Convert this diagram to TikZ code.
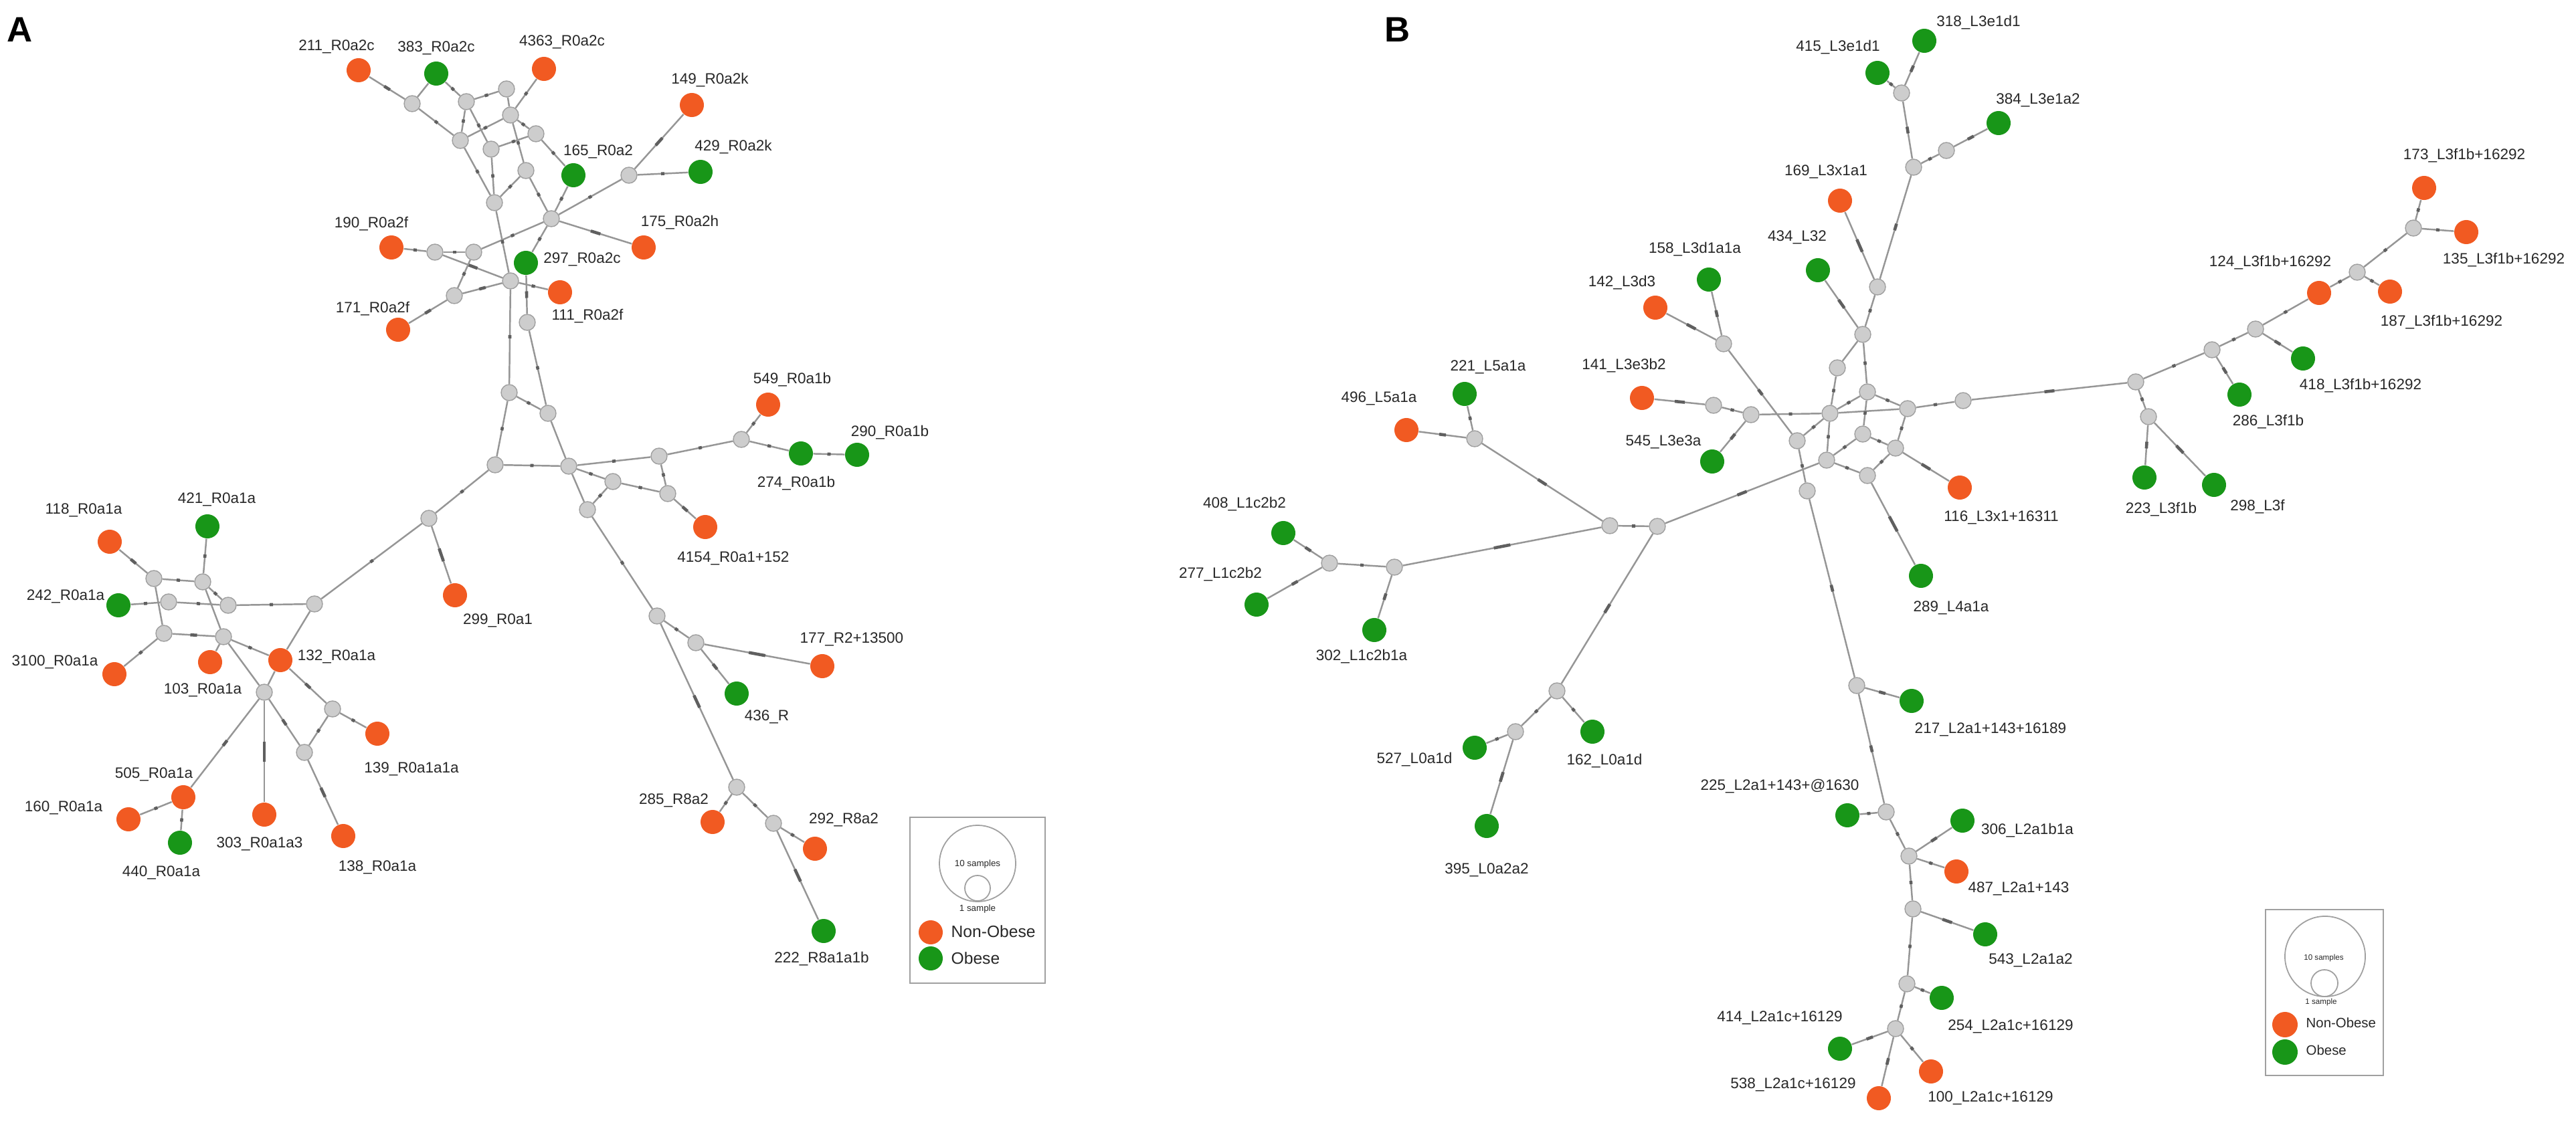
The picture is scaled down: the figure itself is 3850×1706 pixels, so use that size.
\documentclass[tikz,border=0pt]{standalone}
\usepackage{fontspec}
\setmainfont{Liberation Sans}
\usetikzlibrary{decorations.markings}
\definecolor{nobc}{RGB}{241,90,34}
\definecolor{obc}{RGB}{24,150,24}
\definecolor{hfill}{RGB}{205,205,205}
\definecolor{hline}{RGB}{160,160,160}
\definecolor{edgec}{RGB}{150,150,150}
\definecolor{tkc}{RGB}{95,95,95}
\definecolor{labc}{RGB}{40,40,40}
\pgfdeclarelayer{back}
\pgfdeclarelayer{bg}
\pgfsetlayers{back,bg,main}
\begin{document}
\begin{tikzpicture}[x=0.01cm,y=-0.01cm,
 nob/.style={circle,fill=nobc,inner sep=0,minimum size=0.36cm},
 obs/.style={circle,fill=obc,inner sep=0,minimum size=0.36cm},
 hap/.style={circle,fill=hfill,draw=hline,line width=0.4pt,inner sep=0,minimum size=0.24cm},
 lab/.style={font=\fontsize{6.4}{7}\selectfont,text=labc,inner sep=0},
 edg/.style={draw=edgec,line width=0.7pt},
 tk/.style={postaction={decorate,decoration={markings,mark=at position 0.5 with {\draw[tkc,line width=1.3pt] (-#1*0.025cm,0)--(#1*0.025cm,0);}}}},
 panel/.style={font=\fontsize{15}{17}\selectfont\bfseries,inner sep=0},
 legbox/.style={draw=hline,line width=0.8pt,inner sep=0},
 ring/.style={circle,draw=hline,line width=0.5pt,inner sep=0},
 tiny/.style={font=\fontsize{3.8}{4}\selectfont,text=labc,inner sep=0},
 legtxt/.style={font=\fontsize{7}{8}\selectfont,text=labc,inner sep=0,anchor=west}
]
\useasboundingbox (0,0) rectangle (3850,1706);
\begin{pgfonlayer}{back}
\fill[white] (0,0) rectangle (3850,1706);
\end{pgfonlayer}
\node[panel] (pA) at (30,44) {A};
\node[panel] (pB) at (2089,44) {B};
% ================= Panel A =================
% top cluster
\node[nob] (a211) at (536,105) {};
\node[obs] (a383) at (652,110) {};
\node[nob] (a4363) at (813,103) {};
\node[nob] (a149) at (1034,157) {};
\node[obs] (a429) at (1047,257) {};
\node[obs] (a165) at (857,262) {};
\node[nob] (a175) at (962,370) {};
\node[obs] (a297) at (786,393) {};
\node[nob] (a111) at (837,437) {};
\node[nob] (a190) at (585,370) {};
\node[nob] (a171) at (595,493) {};
\node[hap] (g1) at (616,155) {};
\node[hap] (g2) at (697,152) {};
\node[hap] (g3) at (757,133) {};
\node[hap] (g4) at (763,172) {};
\node[hap] (g5) at (801,200) {};
\node[hap] (g6) at (688,210) {};
\node[hap] (g7) at (734,223) {};
\node[hap] (g8) at (786,255) {};
\node[hap] (g9) at (940,262) {};
\node[hap] (g10) at (739,303) {};
\node[hap] (g11) at (824,327) {};
\node[hap] (g12) at (650,377) {};
\node[hap] (g13) at (708,377) {};
\node[hap] (g14) at (763,420) {};
\node[hap] (g15) at (679,442) {};
\node[hap] (g16) at (788,482) {};
% centre
\node[hap] (ca) at (761,587) {};
\node[hap] (cb) at (819,618) {};
\node[hap] (cc) at (740,695) {};
\node[hap] (cd) at (850,697) {};
\node[hap] (ce) at (985,682) {};
\node[hap] (cf) at (1108,657) {};
\node[nob] (a549) at (1148,605) {};
\node[obs] (a274) at (1197,678) {};
\node[obs] (a290) at (1281,680) {};
\node[hap] (cg) at (916,720) {};
\node[hap] (ch) at (998,738) {};
\node[hap] (ci) at (878,762) {};
\node[nob] (a4154) at (1054,788) {};
\node[hap] (cj) at (641,775) {};
\node[nob] (a299) at (680,890) {};
\node[hap] (ck) at (982,921) {};
\node[hap] (cl) at (1040,961) {};
\node[nob] (a177) at (1229,996) {};
\node[obs] (a436) at (1101,1037) {};
\node[hap] (cx) at (1101,1177) {};
\node[nob] (a285) at (1065,1229) {};
\node[hap] (cy) at (1156,1231) {};
\node[nob] (a292) at (1218,1269) {};
\node[obs] (a222) at (1231,1392) {};
% left cluster
\node[hap] (lm) at (470,903) {};
\node[nob] (a118) at (164,810) {};
\node[obs] (a421) at (310,787) {};
\node[hap] (ln) at (230,865) {};
\node[hap] (lo) at (303,870) {};
\node[obs] (a242) at (177,905) {};
\node[hap] (lp) at (252,900) {};
\node[hap] (lq) at (341,905) {};
\node[hap] (lr) at (245,947) {};
\node[hap] (ls) at (334,952) {};
\node[nob] (a3100) at (171,1008) {};
\node[nob] (a103) at (314,990) {};
\node[nob] (a132) at (419,987) {};
\node[hap] (lu) at (395,1035) {};
\node[hap] (lv) at (497,1060) {};
\node[nob] (a139) at (564,1097) {};
\node[hap] (lw) at (455,1125) {};
\node[nob] (a505) at (274,1192) {};
\node[nob] (a160) at (192,1225) {};
\node[obs] (a440) at (269,1260) {};
\node[nob] (a303) at (395,1218) {};
\node[nob] (a138) at (513,1250) {};
% labels A
\node[lab] (t211) at (503,70) {211\_R0a2c};
\node[lab] (t383) at (652,72) {383\_R0a2c};
\node[lab] (t4363) at (840,63) {4363\_R0a2c};
\node[lab] (t149) at (1061,120) {149\_R0a2k};
\node[lab] (t429) at (1096,220) {429\_R0a2k};
\node[lab] (t165) at (894,227) {165\_R0a2};
\node[lab] (t175) at (1016,333) {175\_R0a2h};
\node[lab] (t297) at (870,388) {297\_R0a2c};
\node[lab] (t111) at (878,473) {111\_R0a2f};
\node[lab] (t190) at (555,335) {190\_R0a2f};
\node[lab] (t171) at (557,462) {171\_R0a2f};
\node[lab] (t549) at (1184,568) {549\_R0a1b};
\node[lab] (t274) at (1190,723) {274\_R0a1b};
\node[lab] (t290) at (1330,647) {290\_R0a1b};
\node[lab] (t4154) at (1096,835) {4154\_R0a1+152};
\node[lab] (t299) at (744,928) {299\_R0a1};
\node[lab] (t177) at (1273,956) {177\_R2+13500};
\node[lab] (t436) at (1146,1072) {436\_R};
\node[lab] (t285) at (1007,1197) {285\_R8a2};
\node[lab] (t292) at (1261,1226) {292\_R8a2};
\node[lab] (t222) at (1228,1434) {222\_R8a1a1b};
\node[lab] (t118) at (125,763) {118\_R0a1a};
\node[lab] (t421) at (324,747) {421\_R0a1a};
\node[lab] (t242) at (98,892) {242\_R0a1a};
\node[lab] (t3100) at (82,990) {3100\_R0a1a};
\node[lab] (t103) at (303,1032) {103\_R0a1a};
\node[lab] (t132) at (503,982) {132\_R0a1a};
\node[lab] (t139) at (615,1150) {139\_R0a1a1a};
\node[lab] (t505) at (230,1158) {505\_R0a1a};
\node[lab] (t160) at (95,1208) {160\_R0a1a};
\node[lab] (t440) at (241,1305) {440\_R0a1a};
\node[lab] (t303) at (388,1262) {303\_R0a1a3};
\node[lab] (t138) at (564,1297) {138\_R0a1a};
% legend A
\node[legbox,minimum width=2.02cm,minimum height=2.48cm] (legA) at (1461,1346) {};
\node[ring,minimum size=1.14cm] (bigA) at (1461,1291) {};
\node[ring,minimum size=0.38cm] (smA) at (1461,1328) {};
\node[tiny] (tenA) at (1461,1292) {10 samples};
\node[tiny] (oneA) at (1461,1359) {1 sample};
\node[nob] (lnA) at (1391,1394) {};
\node[obs] (loA) at (1391,1433) {};
\node[legtxt] (tnA) at (1421,1393) {Non-Obese};
\node[legtxt] (toA) at (1421,1433) {Obese};
% ================= Panel B =================
\node[obs] (b318) at (2876,61) {};
\node[obs] (b415) at (2806,109) {};
\node[hap] (B1) at (2842,139) {};
\node[obs] (b384) at (2987,184) {};
\node[hap] (B2) at (2909,225) {};
\node[hap] (B3) at (2860,250) {};
\node[nob] (b169) at (2750,300) {};
\node[obs] (b434) at (2717,404) {};
\node[hap] (B4) at (2806,429) {};
\node[obs] (b158) at (2554,418) {};
\node[nob] (b142) at (2474,460) {};
\node[hap] (B5) at (2576,514) {};
\node[hap] (B6) at (2784,500) {};
\node[hap] (B7) at (2746,550) {};
\node[nob] (b141) at (2454,595) {};
\node[hap] (B8) at (2561,606) {};
\node[hap] (B9) at (2617,620) {};
\node[obs] (b545) at (2559,690) {};
\node[hap] (B10) at (2791,586) {};
\node[hap] (B11) at (2735,618) {};
\node[hap] (B12) at (2851,611) {};
\node[hap] (B13) at (2934,599) {};
\node[hap] (B14) at (2784,649) {};
\node[hap] (B15) at (2833,670) {};
\node[hap] (B16) at (2686,659) {};
\node[hap] (B17) at (2730,688) {};
\node[hap] (B18) at (2791,711) {};
\node[hap] (B19) at (2701,734) {};
\node[nob] (b116) at (2929,729) {};
\node[obs] (b289) at (2871,861) {};
\node[hap] (B20) at (2406,786) {};
\node[hap] (B21) at (2477,787) {};
\node[obs] (b221) at (2189,589) {};
\node[nob] (b496) at (2102,643) {};
\node[hap] (C1) at (2204,656) {};
\node[obs] (b408) at (1918,797) {};
\node[hap] (C4) at (1987,842) {};
\node[hap] (C5) at (2084,848) {};
\node[obs] (b277) at (1878,904) {};
\node[obs] (b302) at (2054,942) {};
\node[hap] (C6) at (2327,1033) {};
\node[hap] (C7) at (2265,1094) {};
\node[obs] (b162) at (2380,1094) {};
\node[obs] (b527) at (2204,1118) {};
\node[obs] (b395) at (2222,1235) {};
\node[nob] (b173) at (3623,281) {};
\node[hap] (D1) at (3607,341) {};
\node[nob] (b135) at (3686,347) {};
\node[hap] (D2) at (3523,407) {};
\node[nob] (b124) at (3466,438) {};
\node[nob] (b187) at (3572,436) {};
\node[hap] (D3) at (3371,492) {};
\node[obs] (b418) at (3442,536) {};
\node[hap] (D4) at (3306,523) {};
\node[obs] (b286) at (3347,590) {};
\node[hap] (D5) at (3192,571) {};
\node[hap] (D6) at (3211,623) {};
\node[obs] (b223) at (3205,714) {};
\node[obs] (b298) at (3309,725) {};
\node[hap] (E1) at (2775,1025) {};
\node[obs] (b217) at (2857,1048) {};
\node[hap] (E2) at (2819,1214) {};
\node[obs] (b225) at (2761,1219) {};
\node[hap] (E3) at (2853,1280) {};
\node[obs] (b306) at (2933,1227) {};
\node[nob] (b487) at (2924,1303) {};
\node[hap] (E4) at (2859,1359) {};
\node[obs] (b543) at (2967,1397) {};
\node[hap] (E5) at (2850,1471) {};
\node[obs] (b254) at (2902,1492) {};
\node[hap] (E6) at (2833,1538) {};
\node[obs] (b414) at (2750,1568) {};
\node[nob] (b538) at (2808,1642) {};
\node[nob] (b100) at (2886,1602) {};
% labels B
\node[lab] (u318) at (2957,34) {318\_L3e1d1};
\node[lab] (u415) at (2747,71) {415\_L3e1d1};
\node[lab] (u384) at (3046,150) {384\_L3e1a2};
\node[lab] (u169) at (2729,257) {169\_L3x1a1};
\node[lab] (u434) at (2686,355) {434\_L32};
\node[lab] (u158) at (2533,373) {158\_L3d1a1a};
\node[lab] (u142) at (2424,423) {142\_L3d3};
\node[lab] (u141) at (2427,547) {141\_L3e3b2};
\node[lab] (u545) at (2486,661) {545\_L3e3a};
\node[lab] (u116) at (2991,774) {116\_L3x1+16311};
\node[lab] (u289) at (2916,909) {289\_L4a1a};
\node[lab] (u221) at (2224,549) {221\_L5a1a};
\node[lab] (u496) at (2061,596) {496\_L5a1a};
\node[lab] (u408) at (1860,754) {408\_L1c2b2};
\node[lab] (u277) at (1824,859) {277\_L1c2b2};
\node[lab] (u302) at (2035,982) {302\_L1c2b1a};
\node[lab] (u527) at (2114,1136) {527\_L0a1d};
\node[lab] (u162) at (2398,1138) {162\_L0a1d};
\node[lab] (u395) at (2222,1301) {395\_L0a2a2};
\node[lab] (u173) at (3683,233) {173\_L3f1b+16292};
\node[lab] (u135) at (3742,389) {135\_L3f1b+16292};
\node[lab] (u124) at (3393,393) {124\_L3f1b+16292};
\node[lab] (u187) at (3649,482) {187\_L3f1b+16292};
\node[lab] (u418) at (3528,577) {418\_L3f1b+16292};
\node[lab] (u286) at (3390,631) {286\_L3f1b};
\node[lab] (u223) at (3230,762) {223\_L3f1b};
\node[lab] (u298) at (3374,758) {298\_L3f};
\node[lab] (u217) at (2975,1091) {217\_L2a1+143+16189};
\node[lab] (u225) at (2660,1176) {225\_L2a1+143+@1630};
\node[lab] (u306) at (3030,1242) {306\_L2a1b1a};
\node[lab] (u487) at (3017,1329) {487\_L2a1+143};
\node[lab] (u543) at (3035,1436) {543\_L2a1a2};
\node[lab] (u254) at (3005,1535) {254\_L2a1c+16129};
\node[lab] (u414) at (2660,1522) {414\_L2a1c+16129};
\node[lab] (u538) at (2680,1622) {538\_L2a1c+16129};
\node[lab] (u100) at (2975,1642) {100\_L2a1c+16129};
% legend B
\node[legbox,minimum width=1.76cm,minimum height=2.48cm] (legB) at (3474,1484) {};
\node[ring,minimum size=1.2cm] (bigB) at (3475,1430) {};
\node[ring,minimum size=0.4cm] (smB) at (3474,1470) {};
\node[tiny,font=\fontsize{3.3}{4}\selectfont] (tenB) at (3473,1432) {10 samples};
\node[tiny,font=\fontsize{3.3}{4}\selectfont] (oneB) at (3469,1498) {1 sample};
\node[nob,minimum size=0.38cm] (lnB) at (3415,1532) {};
\node[obs,minimum size=0.38cm] (loB) at (3415,1573) {};
\node[legtxt,font=\fontsize{5.8}{7}\selectfont] (tnB) at (3446,1529) {Non-Obese};
\node[legtxt,font=\fontsize{5.8}{7}\selectfont] (toB) at (3446,1570) {Obese};
% ================= Edges =================
\begin{pgfonlayer}{bg}
% A top
\draw[edg,tk=2] (a211) -- (g1);
\draw[edg] (a383) -- (g1);
\draw[edg,tk=1] (a383) -- (g2);
\draw[edg,tk=1] (g2) -- (g3);
\draw[edg,tk=1] (a4363) -- (g4);
\draw[edg] (g3) -- (g4);
\draw[edg,tk=1] (g1) -- (g6);
\draw[edg,tk=1] (g2) -- (g6);
\draw[edg,tk=1] (g2) -- (g7);
\draw[edg,tk=1] (g4) -- (g6);
\draw[edg,tk=1] (g4) -- (g5);
\draw[edg,tk=1] (g4) -- (g8);
\draw[edg,tk=1] (g7) -- (g5);
\draw[edg,tk=1] (g5) -- (a165);
\draw[edg,tk=1] (g6) -- (g10);
\draw[edg,tk=1] (g7) -- (g10);
\draw[edg,tk=1] (g8) -- (g10);
\draw[edg,tk=1] (g8) -- (g11);
\draw[edg,tk=1] (g11) -- (a165);
\draw[edg,tk=1] (g11) -- (g9);
\draw[edg,tk=3] (g9) -- (a149);
\draw[edg,tk=1] (g9) -- (a429);
\draw[edg,tk=3] (g11) -- (a175);
\draw[edg,tk=1] (g11) -- (g13);
\draw[edg,tk=1] (g11) -- (a297);
\draw[edg,tk=1] (g10) -- (g14);
\draw[edg,tk=1] (g12) -- (a190);
\draw[edg,tk=1] (g12) -- (g13);
\draw[edg,tk=3] (g12) -- (g14);
\draw[edg,tk=1] (g13) -- (g15);
\draw[edg,tk=2] (g15) -- (a171);
\draw[edg,tk=2] (g15) -- (g14);
\draw[edg,tk=1] (g14) -- (a111);
\draw[edg,tk=2] (a297) -- (g16);
\draw[edg,tk=1] (g14) -- (ca);
\draw[edg,tk=1] (g16) -- (cb);
% A centre
\draw[edg,tk=1] (ca) -- (cb);
\draw[edg,tk=1] (ca) -- (cc);
\draw[edg] (cb) -- (cd);
\draw[edg,tk=1] (cc) -- (cd);
\draw[edg,tk=1] (cd) -- (ce);
\draw[edg,tk=1] (ce) -- (cf);
\draw[edg,tk=1] (cf) -- (a549);
\draw[edg,tk=1] (cf) -- (a274);
\draw[edg,tk=1] (a274) -- (a290);
\draw[edg,tk=1] (cd) -- (cg);
\draw[edg,tk=1] (cg) -- (ch);
\draw[edg,tk=1] (ce) -- (ch);
\draw[edg,tk=2] (ch) -- (a4154);
\draw[edg,tk=1] (cg) -- (ci);
\draw[edg] (cd) -- (ci);
\draw[edg,tk=1] (ci) -- (ck);
\draw[edg,tk=1] (cc) -- (cj);
\draw[edg,tk=4] (cj) -- (a299);
\draw[edg,tk=1] (cj) -- (lm);
\draw[edg,tk=1] (ck) -- (cl);
\draw[edg,tk=5] (cl) -- (a177);
\draw[edg,tk=2] (cl) -- (a436);
\draw[edg,tk=4] (ck) -- (cx);
\draw[edg,tk=1] (cx) -- (a285);
\draw[edg,tk=1] (cx) -- (cy);
\draw[edg,tk=1] (cy) -- (a292);
\draw[edg,tk=4] (cy) -- (a222);
% A left
\draw[edg,tk=2] (a118) -- (ln);
\draw[edg,tk=1] (ln) -- (lo);
\draw[edg,tk=1] (a421) -- (lo);
\draw[edg,tk=1] (a242) -- (lp);
\draw[edg,tk=1] (lp) -- (lq);
\draw[edg,tk=1] (lo) -- (lq);
\draw[edg,tk=1] (lq) -- (lm);
\draw[edg] (ln) -- (lr);
\draw[edg,tk=2] (lr) -- (ls);
\draw[edg,tk=1] (lr) -- (a3100);
\draw[edg] (ls) -- (a103);
\draw[edg] (lo) -- (ls);
\draw[edg] (ls) -- (lu);
\draw[edg,tk=1] (ls) -- (a132);
\draw[edg] (lm) -- (a132);
\draw[edg] (a132) -- (lu);
\draw[edg,tk=2] (a132) -- (lv);
\draw[edg,tk=2] (lu) -- (a505);
\draw[edg,tk=6] (lu) -- (a303);
\draw[edg,tk=2] (lu) -- (lw);
\draw[edg,tk=1] (lw) -- (lv);
\draw[edg,tk=1] (lv) -- (a139);
\draw[edg,tk=3] (lw) -- (a138);
\draw[edg,tk=1] (a505) -- (a160);
\draw[edg,tk=1] (a505) -- (a440);
% B
\draw[edg,tk=2] (b318) -- (B1);
\draw[edg,tk=1] (b415) -- (B1);
\draw[edg,tk=2] (B1) -- (B3);
\draw[edg,tk=1] (B3) -- (B2);
\draw[edg,tk=2] (B2) -- (b384);
\draw[edg,tk=2] (B3) -- (B4);
\draw[edg,tk=4] (b169) -- (B4);
\draw[edg,tk=1] (B4) -- (B6);
\draw[edg,tk=3] (b434) -- (B6);
\draw[edg] (B6) -- (B7);
\draw[edg,tk=1] (B6) -- (B10);
\draw[edg,tk=1] (B7) -- (B11);
\draw[edg,tk=3] (b142) -- (B5);
\draw[edg,tk=2] (b158) -- (B5);
\draw[edg,tk=2] (B5) -- (B16);
\draw[edg,tk=3] (b141) -- (B8);
\draw[edg,tk=1] (B8) -- (B9);
\draw[edg,tk=2] (b545) -- (B9);
\draw[edg,tk=1] (B9) -- (B11);
\draw[edg] (B11) -- (B12);
\draw[edg,tk=1] (B10) -- (B11);
\draw[edg,tk=1] (B10) -- (B12);
\draw[edg,tk=1] (B10) -- (B14);
\draw[edg,tk=1] (B12) -- (B13);
\draw[edg,tk=3] (B13) -- (D5);
\draw[edg,tk=1] (B11) -- (B16);
\draw[edg,tk=1] (B11) -- (B17);
\draw[edg,tk=1] (B14) -- (B17);
\draw[edg,tk=1] (B14) -- (B15);
\draw[edg,tk=1] (B12) -- (B15);
\draw[edg,tk=1] (B15) -- (B18);
\draw[edg,tk=1] (B17) -- (B18);
\draw[edg,tk=3] (B15) -- (b116);
\draw[edg,tk=5] (B18) -- (b289);
\draw[edg,tk=1] (B16) -- (B19);
\draw[edg,tk=3] (B17) -- (B21);
\draw[edg,tk=1] (B20) -- (B21);
\draw[edg,tk=2] (B19) -- (E1);
\draw[edg,tk=3] (B21) -- (C6);
\draw[edg,tk=3] (C1) -- (B20);
\draw[edg,tk=1] (b221) -- (C1);
\draw[edg,tk=2] (b496) -- (C1);
\draw[edg,tk=5] (C5) -- (B20);
\draw[edg,tk=2] (b408) -- (C4);
\draw[edg,tk=2] (b277) -- (C4);
\draw[edg,tk=1] (C4) -- (C5);
\draw[edg,tk=2] (C5) -- (b302);
\draw[edg,tk=1] (C6) -- (C7);
\draw[edg,tk=1] (C6) -- (b162);
\draw[edg,tk=1] (C7) -- (b527);
\draw[edg,tk=3] (C7) -- (b395);
\draw[edg,tk=1] (D5) -- (D4);
\draw[edg,tk=1] (D4) -- (D3);
\draw[edg,tk=1] (D3) -- (b124);
\draw[edg,tk=1] (b124) -- (D2);
\draw[edg,tk=1] (D2) -- (b187);
\draw[edg,tk=1] (D2) -- (D1);
\draw[edg,tk=1] (D1) -- (b173);
\draw[edg,tk=1] (D1) -- (b135);
\draw[edg,tk=2] (D4) -- (b286);
\draw[edg,tk=2] (D3) -- (b418);
\draw[edg,tk=1] (D5) -- (D6);
\draw[edg,tk=2] (D6) -- (b223);
\draw[edg,tk=3] (D6) -- (b298);
\draw[edg,tk=2] (E1) -- (b217);
\draw[edg,tk=2] (E1) -- (E2);
\draw[edg,tk=1] (E2) -- (b225);
\draw[edg,tk=1] (E2) -- (E3);
\draw[edg,tk=2] (E3) -- (b306);
\draw[edg,tk=1] (E3) -- (b487);
\draw[edg,tk=1] (E3) -- (E4);
\draw[edg,tk=3] (E4) -- (b543);
\draw[edg,tk=1] (E4) -- (E5);
\draw[edg,tk=1] (E5) -- (b254);
\draw[edg,tk=1] (E5) -- (E6);
\draw[edg,tk=2] (E6) -- (b414);
\draw[edg,tk=2] (E6) -- (b538);
\draw[edg,tk=1] (E6) -- (b100);
\end{pgfonlayer}
\end{tikzpicture}
\end{document}
